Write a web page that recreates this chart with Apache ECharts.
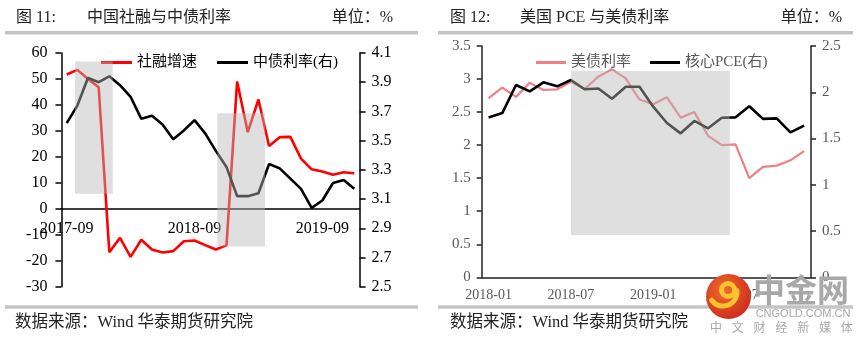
<!DOCTYPE html>
<html><head><meta charset="utf-8">
<script src="https://cdn.jsdelivr.net/npm/echarts@6.0.0/dist/echarts.min.js"></script>
<style>html,body{margin:0;padding:0;background:#fff}#c{width:863px;height:345px}</style>
</head><body><div id="c"></div>
<script>
// ---------- Figure 11 data ----------
const leftMonths = ['2017-09','2017-10','2017-11','2017-12',
  '2018-01','2018-02','2018-03','2018-04','2018-05','2018-06','2018-07','2018-08','2018-09','2018-10','2018-11','2018-12',
  '2019-01','2019-02','2019-03','2019-04','2019-05','2019-06','2019-07','2019-08','2019-09','2019-10','2019-11','2019-12'];
const tsfGrowth = [51.7, 53.5, 50.0, 46.8, -16.7, -11.2, -18.5, -11.9, -15.7, -16.8, -16.3, -12.5, -12.2, -14.0,
  -15.7, -14.1, 49.0, 29.5, 42.1, 24.2, 27.6, 27.7, 19.3, 15.2, 14.4, 13.1, 14.1, 13.7];
const cnBondYield = [3.62, 3.74, 3.93, 3.90, 3.94, 3.88, 3.80, 3.65, 3.67, 3.61, 3.51, 3.57, 3.64, 3.55,
  3.43, 3.32, 3.12, 3.12, 3.14, 3.34, 3.31, 3.24, 3.17, 3.04, 3.09, 3.21, 3.23, 3.17];
// shaded periods: [start band, end band, low, high] (left-axis units)
const leftShades = [[1.28, 4.82, 5.8, 56.7], [14.64, 19.12, -14.5, 36.8]];
const leftRange = [-30, 60];

// ---------- Figure 12 data ----------
const rightMonths = ['2018-01','2018-02','2018-03','2018-04','2018-05','2018-06','2018-07','2018-08','2018-09','2018-10','2018-11','2018-12',
  '2019-01','2019-02','2019-03','2019-04','2019-05','2019-06','2019-07','2019-08','2019-09','2019-10','2019-11','2019-12'];
const usYield = [2.71, 2.87, 2.73, 2.945, 2.834, 2.845, 2.96, 2.85, 3.036, 3.147, 3.011, 2.69,
  2.62, 2.724, 2.416, 2.50, 2.14, 2.00, 2.012, 1.50, 1.67, 1.69, 1.77, 1.91];
const corePce = [1.727, 1.775, 2.078, 2.01, 2.107, 2.064, 2.133, 2.032, 2.04, 1.93, 2.06, 2.06,
  1.844, 1.668, 1.556, 1.69, 1.61, 1.725, 1.729, 1.848, 1.712, 1.718, 1.567, 1.639];
const rightShades = [[6.5, 18.08, 0.641, 3.122]];

const SERIF = "'Liberation Serif','Noto Sans CJK SC',serif";
const chart = echarts.init(document.getElementById('c'), null, {renderer: 'canvas'});

const G0 = {left: 61.4, top: 53, width: 298.2, height: 233.7};
const G1 = {left: 481.7, top: 46, width: 329.3, height: 231.3};
// move the category axis of figure 11 up to the zero level of its left value axis
const zeroOffset = -G0.height * (0 - leftRange[0]) / (leftRange[1] - leftRange[0]);

function shadeArea(shades) {
  return {
    silent: true, z: 10,
    itemStyle: {color: 'rgba(185,185,185,0.45)'},
    data: shades.map(s => [{coord: [s[0], s[2]]}, {coord: [s[1], s[3]]}])
  };
}
function tx(x, y, text, size, fill, align, extra) {
  return Object.assign({type: 'text', x: x, y: y, style: {text: text, font: size + 'px ' + SERIF,
    fill: fill, textAlign: align || 'left', textVerticalAlign: 'middle'}}, extra || {});
}

const option = {
  animation: false,
  backgroundColor: '#fff',
  textStyle: {fontFamily: SERIF},
  grid: [G0, G1, Object.assign({}, G0), Object.assign({}, G1)],
  legend: [
    {data: ['社融增速', '中债利率(右)'], left: 96, top: 50, icon: 'rect', itemWidth: 31, itemHeight: 3,
     itemGap: 20, textStyle: {fontSize: 15, color: '#000', fontFamily: SERIF}, selectedMode: false},
    {data: ['美债利率', '核心PCE(右)'], left: 531, top: 50, icon: 'rect', itemWidth: 30, itemHeight: 3,
     itemGap: 19, textStyle: {fontSize: 15, color: '#595959', fontFamily: SERIF}, selectedMode: false}
  ],
  xAxis: [
    {type: 'category', gridIndex: 0, data: leftMonths, boundaryGap: true, position: 'bottom', offset: zeroOffset,
     axisLine: {onZero: false, lineStyle: {color: '#000', width: 1.5}},
     axisTick: {interval: 11, length: 5, lineStyle: {color: '#000', width: 1.5}},
     axisLabel: {interval: 11, margin: 12, fontSize: 16, color: '#000', fontFamily: SERIF}},
    {type: 'value', gridIndex: 2, min: 0, max: 28, show: false},
    {type: 'category', gridIndex: 1, data: rightMonths, boundaryGap: true,
     axisLine: {onZero: false, lineStyle: {color: '#222', width: 1.5}},
     axisTick: {interval: 5, length: 5, lineStyle: {color: '#222', width: 1.5}},
     axisLabel: {interval: 5, margin: 11, fontSize: 14, color: '#595959', fontFamily: SERIF}},
    {type: 'value', gridIndex: 3, min: 0, max: 24, show: false}
  ],
  yAxis: [
    {type: 'value', gridIndex: 0, min: leftRange[0], max: leftRange[1], interval: 10, position: 'left',
     axisLine: {show: true, onZero: false, lineStyle: {color: '#000', width: 1.5}},
     axisTick: {show: true, length: 6, lineStyle: {color: '#000', width: 1.5}},
     splitLine: {show: false},
     axisLabel: {margin: 14, fontSize: 16, color: '#000', fontFamily: SERIF}},
    {type: 'value', gridIndex: 0, min: 2.5, max: 4.1, interval: 0.2, position: 'right',
     axisLine: {show: true, onZero: false, lineStyle: {color: '#000', width: 1.5}},
     axisTick: {show: true, length: 6, lineStyle: {color: '#000', width: 1.5}},
     splitLine: {show: false},
     axisLabel: {margin: 12, fontSize: 16, color: '#000', fontFamily: SERIF, formatter: v => v.toFixed(1)}},
    {type: 'value', gridIndex: 1, min: 0, max: 3.5, interval: 0.5, position: 'left',
     axisLine: {show: true, onZero: false, lineStyle: {color: '#222', width: 1.5}},
     axisTick: {show: true, length: 5, lineStyle: {color: '#222', width: 1.5}},
     splitLine: {show: false},
     axisLabel: {margin: 11, fontSize: 15, color: '#595959', fontFamily: SERIF}},
    {type: 'value', gridIndex: 1, min: 0, max: 2.5, interval: 0.5, position: 'right',
     axisLine: {show: true, onZero: false, lineStyle: {color: '#222', width: 1.5}},
     axisTick: {show: true, length: 5, lineStyle: {color: '#222', width: 1.5}},
     splitLine: {show: false},
     axisLabel: {margin: 11, fontSize: 15, color: '#595959', fontFamily: SERIF}},
    {type: 'value', gridIndex: 2, min: leftRange[0], max: leftRange[1], show: false},
    {type: 'value', gridIndex: 3, min: 0, max: 3.5, show: false}
  ],
  series: [
    {name: '社融增速', type: 'line', xAxisIndex: 0, yAxisIndex: 0, data: tsfGrowth, showSymbol: false,
     symbol: 'none', lineStyle: {color: '#ff0000', width: 2.6}, itemStyle: {color: '#ff0000'}},
    {name: '中债利率(右)', type: 'line', xAxisIndex: 0, yAxisIndex: 1, data: cnBondYield, showSymbol: false,
     symbol: 'none', lineStyle: {color: '#000', width: 2.6}, itemStyle: {color: '#000'}},
    {type: 'line', xAxisIndex: 1, yAxisIndex: 4, data: [], markArea: shadeArea(leftShades)},
    {name: '美债利率', type: 'line', xAxisIndex: 2, yAxisIndex: 2, data: usYield, showSymbol: false,
     symbol: 'none', lineStyle: {color: '#ee7f87', width: 2.2}, itemStyle: {color: '#ee7f87'}},
    {name: '核心PCE(右)', type: 'line', xAxisIndex: 2, yAxisIndex: 3, data: corePce, showSymbol: false,
     symbol: 'none', lineStyle: {color: '#000', width: 2.6}, itemStyle: {color: '#000'}},
    {type: 'line', xAxisIndex: 3, yAxisIndex: 5, data: [], markArea: shadeArea(rightShades)}
  ],
  graphic: [
    // titles
    tx(16, 18, '图 11:', 16, '#222'),
    tx(87, 18, '中国社融与中债利率', 16, '#222'),
    tx(393, 18, '单位：%', 16, '#222', 'right'),
    tx(450, 18, '图 12:', 16, '#222'),
    tx(520, 18, '美国 PCE 与美债利率', 16, '#222'),
    tx(842, 18, '单位：%', 16, '#222', 'right'),
    {type: 'rect', shape: {x: 5, y: 31, width: 413, height: 3.5}, style: {fill: '#c4c4c4'}},
    {type: 'rect', shape: {x: 438, y: 31, width: 415, height: 3.5}, style: {fill: '#c4c4c4'}},
    {type: 'rect', shape: {x: 5, y: 305.3, width: 413, height: 3.5}, style: {fill: '#c4c4c4'}},
    {type: 'rect', shape: {x: 438, y: 305.3, width: 415, height: 3.5}, style: {fill: '#c4c4c4'}},
    tx(15, 323, '数据来源：Wind 华泰期货研究院', 16.5, '#222'),
    tx(450, 323, '数据来源：Wind 华泰期货研究院', 16.5, '#222'),
    // watermark
    {type: 'circle', z: 200, shape: {cx: 728.5, cy: 296.5, r: 22.5},
     style: {fill: new echarts.graphic.RadialGradient(0.4, 0.35, 0.75,
       [{offset: 0, color: '#f36b2b'}, {offset: 1, color: '#c8261c'}])}},
    {type: 'arc', z: 201, shape: {cx: 728, cy: 290, r: 6.5, startAngle: 0, endAngle: Math.PI * 2},
     style: {stroke: '#f8c42e', lineWidth: 5, fill: null}},
    {type: 'arc', z: 201, shape: {cx: 723, cy: 292, r: 14, startAngle: -0.1, endAngle: Math.PI * 0.8, clockwise: true},
     style: {stroke: '#f8c42e', lineWidth: 5, fill: null, lineCap: 'round'}},
    {type: 'text', z: 200, x: 801, y: 290, style: {text: '中金网', font: 'bold 32px "Noto Sans CJK SC"',
      fill: '#a8a8a8', textAlign: 'center', textVerticalAlign: 'middle'}},
    {type: 'text', z: 200, x: 803, y: 314, style: {text: 'CNGOLD.COM.CN', font: '11px "Liberation Sans"',
      fill: '#a8a8a8', textAlign: 'center', textVerticalAlign: 'middle'}}
  ].concat('中文财经新媒体'.split('').map((ch, k) => ({type: 'text', z: 200, x: 716 + k * 21.8, y: 327,
      style: {text: ch, font: '12px "Noto Sans CJK SC"', fill: '#a8a8a8', textAlign: 'center', textVerticalAlign: 'middle'}})))
};
chart.setOption(option);
</script>
</body></html>
